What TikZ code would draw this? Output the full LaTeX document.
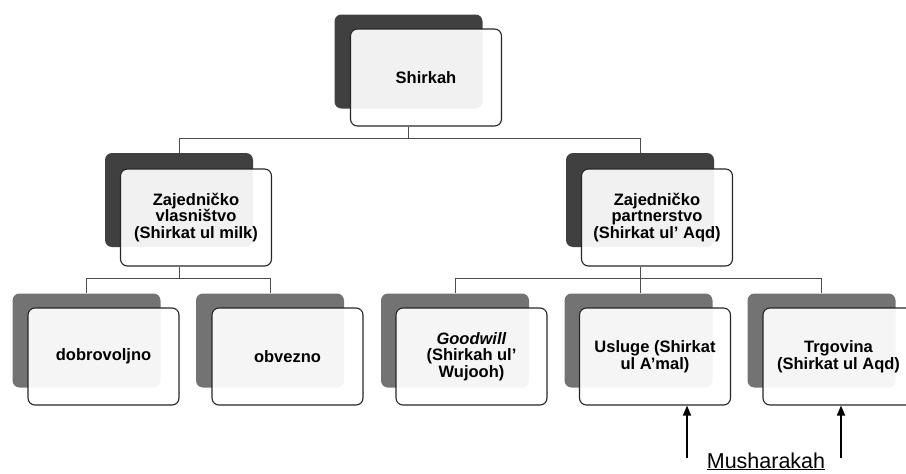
\documentclass[tikz,border=0pt]{standalone}
\usepackage{fontspec}
\setmainfont{Liberation Sans}
\usepackage{tikz}
\usetikzlibrary{arrows.meta}

\tikzset{
  back/.style={rounded corners=7pt, fill=#1, minimum width=148pt, minimum height=94pt, inner sep=0pt},
  front/.style={draw=black!85, line width=1.1pt, rounded corners=7pt, fill=white, fill opacity=0.93, text opacity=1,
    minimum width=151pt, minimum height=97pt, inner sep=2pt, align=center,
    font=\bfseries\fontsize{16.5}{16.5}\selectfont},
  conn/.style={draw=black!70, line width=0.9pt},
  up/.style={-{Triangle[length=10pt,width=8pt]}, line width=1.8pt}
}

\begin{document}
\begin{tikzpicture}[x=1pt,y=-1pt]
\useasboundingbox (0,0) rectangle (906,474);
\clip (0,0) rectangle (906,474);

% top
\node[back=black!75] (shirkahS) at (408.5,61.5) {};
\node[front] (shirkah) at (426,77.5) {Shirkah};

% second row
\node[back=black!75] (vlasS) at (179,200) {};
\node[front] (vlas) at (196,217.5) {Zajedničko\\vlasništvo\\(Shirkat ul milk)};

\node[back=black!75] (partS) at (640,200) {};
\node[front] (part) at (657,217.5) {Zajedničko\\partnerstvo\\(Shirkat ul’ Aqd)};

% third row
\node[back=black!55] (dobroS) at (86.5,340.5) {};
\node[front] (dobro) at (103.5,356.5) {dobrovoljno};

\node[back=black!55] (obvezS) at (270,340.5) {};
\node[front] (obvez) at (287.5,356.5) {obvezno};

\node[back=black!55] (goodS) at (455,340.5) {};
\node[front] (good) at (471.5,356.5) {\textit{Goodwill}\\(Shirkah ul’\\Wujooh)};

\node[back=black!55] (uslugeS) at (638.5,340.5) {};
\node[front] (usluge) at (655,356.5) {Usluge (Shirkat\\ul A’mal)};

\node[back=black!55] (trgS) at (821.5,340.5) {};
\node[front] (trg) at (838.5,356.5) {Trgovina\\(Shirkat ul Aqd)};

% connectors
\coordinate (bar1) at (408.5,138.5);
\draw[conn] (shirkah.south -| bar1) -- (bar1) -| (vlasS.north);
\draw[conn] (bar1) -| (partS.north);

\coordinate (bar2) at (179,278);
\draw[conn] (vlas.south -| bar2) -- (bar2) -| (dobroS.north);
\draw[conn] (bar2) -| (obvezS.north);

\coordinate (bar3) at (640,278);
\draw[conn] (part.south -| bar3) -- (bar3) -| (goodS.north);
\draw[conn] (bar3) -| (trgS.north);
\draw[conn] (bar3) -- (bar3 |- uslugeS.north);

% musharakah
\node[font=\fontsize{21.5}{22}\selectfont, inner sep=0pt, anchor=base] (mush) at (766,468) {\underline{Musharakah}};
\coordinate (arrA) at (687,458);
\coordinate (arrB) at (841,458);
\draw[up] (arrA) -- (arrA |- usluge.south);
\draw[up] (arrB) -- (arrB |- trg.south);
\end{tikzpicture}
\end{document}
